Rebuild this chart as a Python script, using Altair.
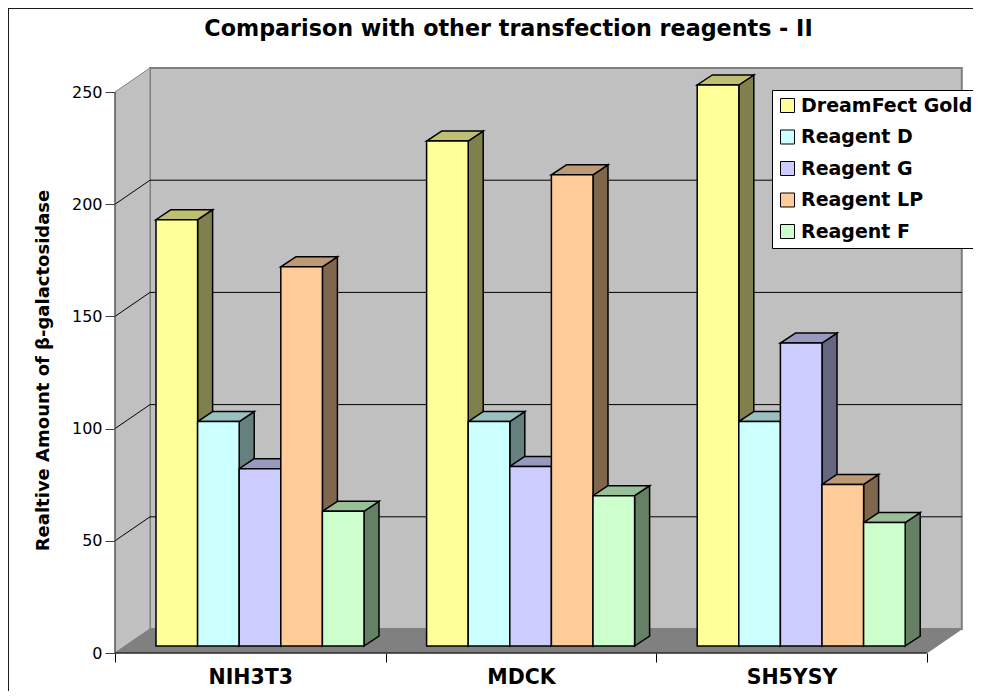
import altair as alt
import pandas as pd

GROUPS = ["NIH3T3", "MDCK", "SH5YSY"]
REAGENTS = ["DreamFect Gold", "Reagent D", "Reagent G", "Reagent LP", "Reagent F"]
DREAMFECT = [190, 225, 250]
REAGENT_D = [100, 100, 100]
REAGENT_G = [79, 80, 135]
REAGENT_LP = [169, 210, 72]
REAGENT_F = [60, 67, 55]
SERIES = [DREAMFECT, REAGENT_D, REAGENT_G, REAGENT_LP, REAGENT_F]
FRONT = ["#FFFF99", "#CCFFFF", "#CCCCFF", "#FFCC99", "#CCFFCC"]
TOP = ["#BFBF73", "#99BFBF", "#9999BF", "#BF9973", "#99BF99"]
SIDE = ["#80804D", "#668080", "#666680", "#80664D", "#668066"]
Y_TICKS = [0, 50, 100, 150, 200, 250]
FONT = "DejaVu Sans"

# pixel geometry of the oblique projection, turned into data units
W, H = 965, 683
ORG_X, ORG_Y = 115 - 8, 653 - 8   # origin inside the plot rectangle
PX_GROUP = 270.6                  # px per category
PX_UNIT = 2.244                   # px per value unit
ux = lambda p: p / PX_GROUP
uy = lambda p: p / PX_UNIT
WALL_X, WALL_Y = ux(35), uy(24)
BAR_X, BAR_Y = ux(15), uy(10)
BAR_Z = uy(7)
BAR_START, BAR_W = ux(41), ux(41.6)
YMAX = 250

XMIN, XMAX = ux(-ORG_X), ux(W - ORG_X)
YMIN, YTOP = uy(ORG_Y - H), uy(ORG_Y)
x_scale = alt.Scale(domain=[XMIN, XMAX], nice=False, zero=False)
y_scale = alt.Scale(domain=[YMIN, YTOP], nice=False, zero=False)
X = lambda f, **k: alt.X(f, type="quantitative", scale=x_scale, title=None, **k)
Y = lambda f, **k: alt.Y(f, type="quantitative", scale=y_scale, **k)

front, side, top = [], [], []
for j, (name, vals) in enumerate(zip(REAGENTS, SERIES)):
    for g, v in enumerate(vals):
        x0 = g + BAR_START + j * BAR_W
        x1 = x0 + BAR_W
        front.append(dict(x=x0, x2=x1, y=BAR_Z, y2=BAR_Z + v, reagent=name))
        side += [
            dict(x=x1, y=BAR_Z, y2=BAR_Z + v, face=f"{g}-{j}", c=SIDE[j]),
            dict(x=x1 + BAR_X, y=BAR_Z + BAR_Y, y2=BAR_Z + v + BAR_Y, face=f"{g}-{j}", c=SIDE[j]),
        ]
        top += [
            dict(x=x0, x2=x1, y=BAR_Z + v, face=f"{g}-{j}", c=TOP[j]),
            dict(x=x0 + BAR_X, x2=x1 + BAR_X, y=BAR_Z + v + BAR_Y, face=f"{g}-{j}", c=TOP[j]),
        ]

n = len(GROUPS)
back = pd.DataFrame([dict(x=WALL_X, x2=n + WALL_X, y=WALL_Y, y2=YMAX + WALL_Y)])
left = pd.DataFrame([dict(x=0, y=0, y2=YMAX), dict(x=WALL_X, y=WALL_Y, y2=YMAX + WALL_Y)])
floor = pd.DataFrame([dict(x=0, x2=n, y=0), dict(x=WALL_X, x2=n + WALL_X, y=WALL_Y)])
grid = [t for t in Y_TICKS if 0 < t < YMAX]
back_grid = pd.DataFrame([dict(x=WALL_X, x2=n + WALL_X, y=t + WALL_Y) for t in grid])
left_grid = pd.DataFrame([dict(x=0, x2=WALL_X, y=t, y2=t + WALL_Y) for t in grid])
x_domain = pd.DataFrame([dict(x=0, x2=n, y=0, y2=0)])
y_domain = pd.DataFrame([dict(x=0, x2=0, y=0, y2=YMAX)])
frame_h = pd.DataFrame([dict(x=XMIN, x2=XMAX, y=YTOP, y2=YTOP)])
frame_v = pd.DataFrame([dict(x=XMIN, x2=XMIN, y=YMIN, y2=YTOP)])

x_values = [i / 2 for i in range(2 * n + 1)]
x_axis = alt.Axis(
    values=x_values, offset=-(H - ORG_Y), grid=False, domain=False,
    tickSize=9, tickColor="#000000",
    tickOpacity={"condition": {"test": "datum.value % 1 === 0", "value": 1}, "value": 0},
    labelExpr=f"datum.value % 1 === 0 ? '' : {GROUPS}[floor(datum.value)]",
    labelFont=FONT, labelFontWeight="bold", labelFontSize=20.5, labelColor="#000000",
    labelPadding=5, labelBaseline="top", labelOverlap=False, labelFlush=False,
)
y_axis = alt.Axis(
    values=Y_TICKS, offset=-ORG_X, grid=False, domain=False,
    tickSize=10, tickColor="#404040",
    labelFont=FONT, labelFontSize=16, labelColor="#000000", labelPadding=3,
    title="Realtive Amount of β-galactosidase",
    titleFont=FONT, titleFontWeight="bold", titleFontSize=18, titleColor="#000000",
    titleX=-72, titleY=362, titleAngle=-90, titleAlign="center", titleBaseline="middle",
)

wall_back = alt.Chart(back).mark_rect(fill="#C0C0C0", stroke="#808080", strokeWidth=2).encode(
    x=X("x", axis=x_axis), x2="x2", y=Y("y", axis=y_axis, title="Realtive Amount of β-galactosidase"), y2="y2")
wall_left = alt.Chart(left).mark_area(fill="#C0C0C0", stroke="#808080", strokeWidth=1).encode(
    x=X("x"), y=Y("y"), y2="y2")
wall_floor = alt.Chart(floor).mark_area(orient="horizontal", fill="#808080", stroke="#808080", strokeWidth=1).encode(
    x=X("x"), x2="x2", y=Y("y"))
rule_back = alt.Chart(back_grid).mark_rule(color="#000000", strokeWidth=1).encode(x=X("x"), x2="x2", y=Y("y"))
rule_left = alt.Chart(left_grid).mark_rule(color="#000000", strokeWidth=1).encode(x=X("x"), x2="x2", y=Y("y"), y2="y2")
dom_x = alt.Chart(x_domain).mark_rule(color="#000000", strokeWidth=1).encode(x=X("x"), x2="x2", y=Y("y"), y2="y2")
dom_y = alt.Chart(y_domain).mark_rule(color="#404040", strokeWidth=1).encode(x=X("x"), x2="x2", y=Y("y"), y2="y2")
frame_top = alt.Chart(frame_h).mark_rule(color="#1a1a1a", strokeWidth=2).encode(x=X("x"), x2="x2", y=Y("y"), y2="y2")
frame_left = alt.Chart(frame_v).mark_rule(color="#1a1a1a", strokeWidth=2).encode(x=X("x"), x2="x2", y=Y("y"), y2="y2")

sides = alt.Chart(pd.DataFrame(side)).mark_area(stroke="#000000", strokeWidth=1.5).encode(
    x=X("x"), y=Y("y"), y2="y2", detail="face:N", color=alt.Color("c:N", scale=None))
tops = alt.Chart(pd.DataFrame(top)).mark_area(orient="horizontal", stroke="#000000", strokeWidth=1.5).encode(
    x=X("x"), x2="x2", y=Y("y"), detail="face:N", color=alt.Color("c:N", scale=None))
legend = alt.Legend(
    orient="none", legendX=764, legendY=82, title=None,
    fillColor="#FFFFFF", strokeColor="#000000", padding=6,
    symbolType="square", symbolSize=196, symbolStrokeColor="#000000", symbolStrokeWidth=1,
    labelFont=FONT, labelFontWeight="bold", labelFontSize=19, labelColor="#000000",
    labelLimit=400, rowPadding=11.5, labelOffset=4,
)
fronts = alt.Chart(pd.DataFrame(front)).mark_bar(stroke="#000000", strokeWidth=1.5).encode(
    x=X("x"), x2="x2", y=Y("y"), y2="y2",
    color=alt.Color("reagent:N", sort=REAGENTS,
                    scale=alt.Scale(domain=REAGENTS, range=FRONT), legend=legend),
)

chart = alt.layer(
    wall_back, wall_left, wall_floor, rule_back, rule_left, dom_x, dom_y,
    frame_top, frame_left, sides, tops, fronts,
).resolve_scale(color="independent").properties(
    width=W, height=H, padding=0,
    autosize=alt.AutoSizeParams(type="none"),
    background="#FFFFFF",
    title=alt.TitleParams(
        "Comparison with other transfection reagents - II",
        font=FONT, fontWeight="bold", fontSize=22.25, color="#000000",
        anchor="middle", offset=-33, dx=18,
    ),
).configure_view(stroke=None)

chart.save("out.html", embed_options={"renderer": "svg", "actions": False})
